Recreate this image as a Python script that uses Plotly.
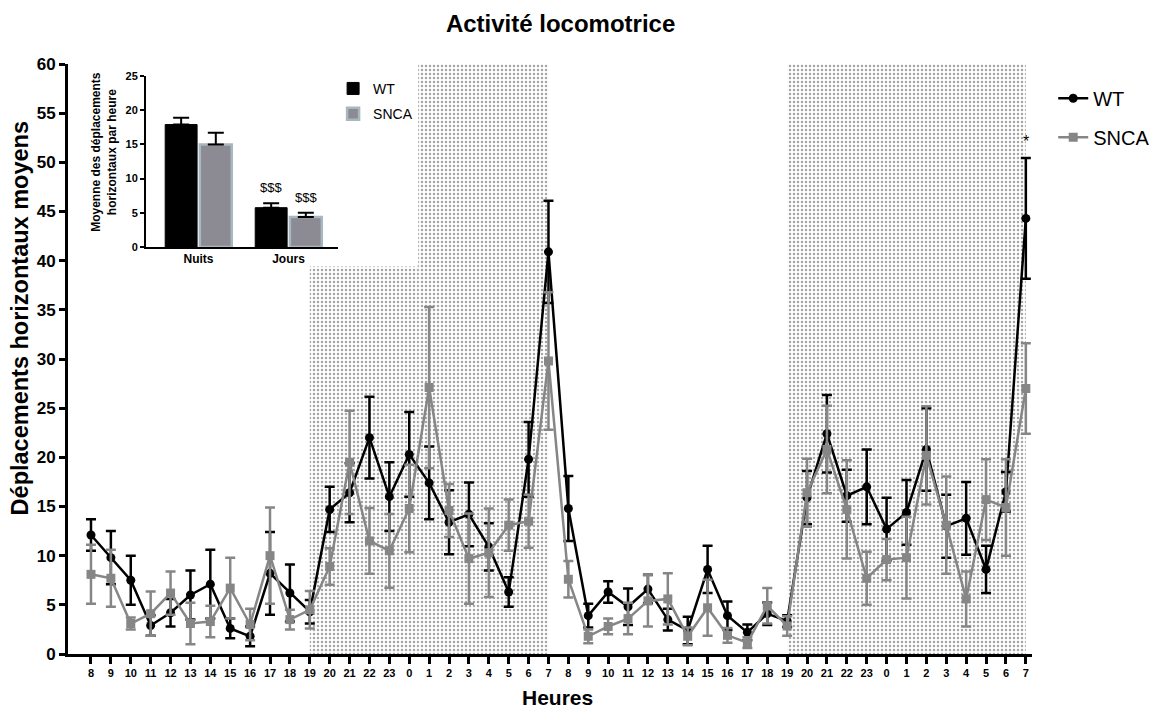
import plotly.graph_objects as go

# hours of the day, two full 24 h cycles starting at 8 h
hours = [8, 9, 10, 11, 12, 13, 14, 15, 16, 17, 18, 19, 20, 21, 22, 23, 0, 1, 2, 3, 4, 5, 6, 7,
         8, 9, 10, 11, 12, 13, 14, 15, 16, 17, 18, 19, 20, 21, 22, 23, 0, 1, 2, 3, 4, 5, 6, 7]

wt_mean = [12.1, 9.8, 7.5, 2.9, 4.2, 6.0, 7.1, 2.6, 1.8, 8.2, 6.2, 4.3,
           14.7, 16.4, 22.0, 16.0, 20.3, 17.4, 13.4, 14.2, 10.9, 6.3, 19.8, 40.9,
           14.8, 3.9, 6.3, 4.8, 6.6, 3.5, 2.4, 8.6, 3.9, 2.2, 4.1, 3.35,
           15.9, 22.4, 16.1, 17.0, 12.7, 14.4, 20.8, 13.0, 13.8, 8.6, 16.5, 44.3]
wt_sem = [1.6, 2.7, 2.5, 1.05, 1.4, 2.5, 3.5, 1.0, 1.0, 4.2, 2.9, 1.2,
          2.3, 3.0, 4.15, 3.5, 4.3, 3.7, 3.25, 3.25, 2.4, 1.5, 3.8, 5.2,
          3.3, 1.2, 1.1, 1.85, 1.45, 1.1, 1.4, 2.4, 1.45, 0.8, 1.15, 0.6,
          2.7, 3.95, 2.65, 3.8, 3.2, 3.3, 4.2, 3.2, 3.7, 2.4, 2.0, 6.15]

snca_mean = [8.1, 7.7, 3.1, 4.1, 6.2, 3.1, 3.3, 6.7, 3.0, 10.0, 3.5, 4.5,
             8.9, 19.5, 11.5, 10.5, 14.8, 27.1, 14.6, 9.7, 10.3, 13.1, 13.5, 29.8,
             7.6, 1.8, 2.8, 3.6, 5.4, 5.6, 1.8, 4.7, 1.9, 1.15, 4.9, 2.85,
             16.4, 20.8, 14.7, 7.7, 9.6, 9.8, 20.2, 13.1, 5.6, 15.7, 14.9, 27.0]
snca_sem = [3.0, 2.9, 0.6, 2.25, 2.2, 2.1, 1.6, 3.1, 1.6, 4.9, 1.0, 1.9,
            1.85, 5.25, 3.35, 3.75, 4.45, 8.2, 2.7, 4.6, 4.5, 2.6, 2.7, 7.0,
            1.85, 0.7, 0.8, 1.6, 2.6, 2.6, 0.9, 2.85, 0.75, 0.55, 1.8, 1.0,
            3.45, 4.45, 5.0, 2.7, 2.1, 4.15, 5.0, 4.95, 2.8, 4.1, 4.9, 4.6]

# inset: mean per hour, nights vs days
periods = ["Nuits", "Jours"]
bar_wt = [17.9, 5.75]
bar_wt_sem = [1.0, 0.65]
bar_snca = [15.0, 4.4]
bar_snca_sem = [1.7, 0.6]

# dark phases (hour index range) -- first one is cut where the inset sits
nights = [(11, 23), (35, 47)]
inset_cut = (16.45, 39.4)

FONT = "Liberation Sans, Arial, Helvetica, sans-serif"
x_idx = list(range(len(hours)))

fig = go.Figure()

# dotted background for the nights
sx, sw, sb, sh = [], [], [], []
a, b = nights[0]
sx += [(a + inset_cut[0]) / 2, (inset_cut[0] + b) / 2]
sw += [inset_cut[0] - a, b - inset_cut[0]]
sb += [0, 0]
sh += [inset_cut[1], 60]
a, b = nights[1]
sx.append((a + b) / 2)
sw.append(b - a)
sb.append(0)
sh.append(60)
fig.add_trace(go.Bar(
    x=sx, y=sh, base=sb, width=sw, showlegend=False, hoverinfo="skip",
    marker=dict(color="white", line=dict(width=0),
                pattern=dict(shape=".", fgcolor="#a6a6a6", bgcolor="white",
                             size=4, solidity=0.3, fillmode="replace")),
))

fig.add_trace(go.Scatter(
    x=x_idx, y=wt_mean, name="WT", legendgroup="wt", mode="lines+markers",
    line=dict(color="black", width=2.5),
    marker=dict(symbol="circle", size=9, color="black"),
    error_y=dict(type="data", array=wt_sem, color="black", thickness=2.5, width=5),
))
fig.add_trace(go.Scatter(
    x=x_idx, y=snca_mean, name="SNCA", legendgroup="snca", mode="lines+markers",
    line=dict(color="#868686", width=2.5),
    marker=dict(symbol="square", size=9, color="#868686"),
    error_y=dict(type="data", array=snca_sem, color="#868686", thickness=2.5, width=5),
))

# inset bars
fig.add_trace(go.Bar(
    x=periods, y=bar_wt, name="WT", xaxis="x2", yaxis="y2", legend="legend2",
    legendgroup="wt_bar",
    marker=dict(color="black", line=dict(color="black", width=1)),
    error_y=dict(type="data", array=bar_wt_sem, arrayminus=[0, 0], symmetric=False,
                 color="black", thickness=2, width=8),
))
fig.add_trace(go.Bar(
    x=periods, y=bar_snca, name="SNCA", xaxis="x2", yaxis="y2", legend="legend2",
    legendgroup="snca_bar",
    marker=dict(color="#8c8a93", line=dict(color="#a9b8c0", width=2.5)),
    error_y=dict(type="data", array=bar_snca_sem, arrayminus=[0, 0], symmetric=False,
                 color="black", thickness=2, width=8),
))

annotations = [
    dict(text="<b>Déplacements horizontaux moyens</b>", xref="paper", yref="paper",
         x=-0.0503, y=0.568, xanchor="center", yanchor="middle", textangle=-90,
         showarrow=False, font=dict(family=FONT, size=23.5, color="black")),
    dict(text="<b>Heures</b>", xref="paper", yref="paper", x=0.508, y=-0.0745,
         xanchor="center", yanchor="middle", showarrow=False,
         font=dict(family=FONT, size=21, color="black")),
    dict(text="<b>Moyenne des déplacements<br>horizontaux par heure</b>", xref="paper",
         yref="paper", x=0.0373, y=0.851, xanchor="center", yanchor="middle",
         textangle=-90, showarrow=False, font=dict(family=FONT, size=12, color="black")),
    dict(text="*", x=47, y=wt_mean[-1] + wt_sem[-1], yanchor="bottom", yshift=6,
         showarrow=False, font=dict(family=FONT, size=16, color="black")),
]
for xv, top in [(0.8075, bar_wt[1] + bar_wt_sem[1]), (1.1925, bar_snca[1] + bar_snca_sem[1])]:
    annotations.append(dict(text="$$$", x=xv, y=top, xref="x2", yref="y2", yanchor="bottom",
                            yshift=6, showarrow=False,
                            font=dict(family=FONT, size=13, color="black")))

# the page body adds an 8 px margin, so the figure is 8 px smaller than the window
fig.update_layout(
    width=1161, height=703,
    margin=dict(l=60, r=137, t=56, b=57),
    plot_bgcolor="white", paper_bgcolor="white",
    font=dict(family=FONT, color="black"),
    title=dict(text="<b>Activité locomotrice</b>", x=0.476, xanchor="center",
               y=0.978, yanchor="middle", font=dict(family=FONT, size=24, color="black")),
    barmode="group", bargap=0.23, bargroupgap=0.08,
    xaxis=dict(range=[-1.156, 47.31], tickvals=x_idx, ticktext=[str(h) for h in hours],
               showline=True, linewidth=3, linecolor="black", ticks="outside",
               ticklen=7, tickwidth=3, tickcolor="black", showgrid=False, zeroline=False,
               tickfont=dict(family=FONT, size=11, color="black", weight="bold")),
    yaxis=dict(range=[0, 60], dtick=5, showline=True, linewidth=3, linecolor="black",
               ticks="outside", ticklen=6, tickwidth=3, tickcolor="black",
               showgrid=False, zeroline=False,
               tickfont=dict(family=FONT, size=17, color="black", weight="bold")),
    xaxis2=dict(domain=[0.0809, 0.2801], anchor="y2", range=[-0.583, 1.55],
                showline=True, linewidth=2, linecolor="black", ticks="",
                showgrid=False, zeroline=False,
                tickfont=dict(family=FONT, size=12, color="black", weight="bold")),
    yaxis2=dict(domain=[0.6898, 0.9797], anchor="x2", range=[0, 25], dtick=5,
                showline=True, linewidth=2, linecolor="black", ticks="outside",
                ticklen=4, tickwidth=2, tickcolor="black", showgrid=False, zeroline=False,
                tickfont=dict(family=FONT, size=11, color="black", weight="bold")),
    legend=dict(x=1.022, y=0.975, xanchor="left", yanchor="top", tracegroupgap=10,
                bgcolor="rgba(0,0,0,0)", font=dict(family=FONT, size=20, color="black")),
    legend2=dict(x=0.275, y=0.985, xanchor="left", yanchor="top", tracegroupgap=4,
                 bgcolor="rgba(0,0,0,0)", font=dict(family=FONT, size=14, color="black")),
    annotations=annotations,
)

fig.write_html("out.html")
